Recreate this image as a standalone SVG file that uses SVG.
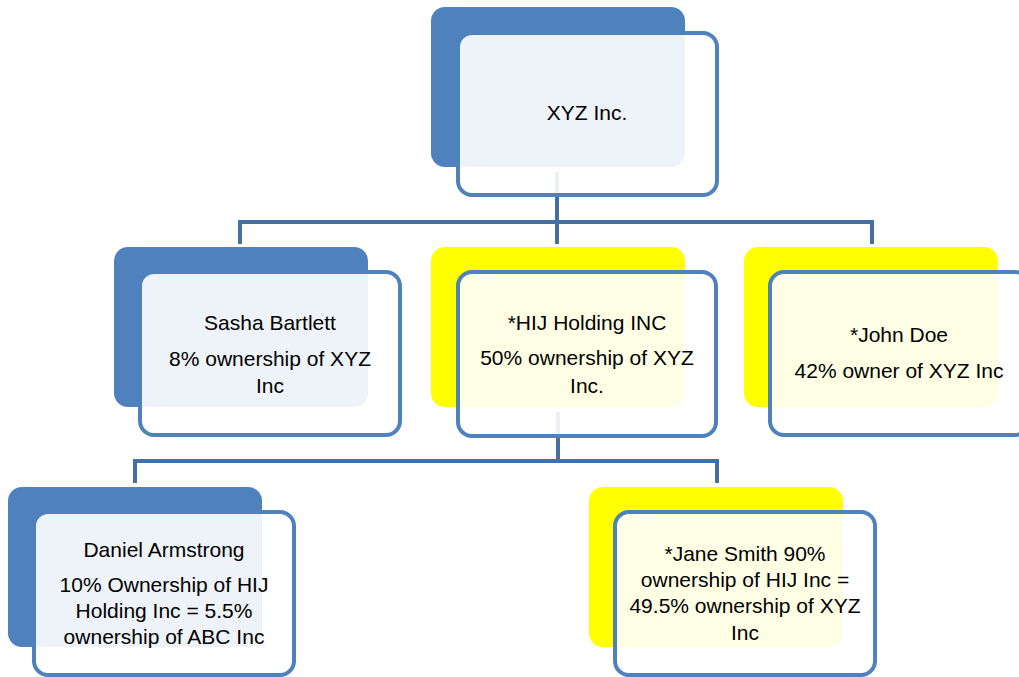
<svg xmlns="http://www.w3.org/2000/svg" width="1019" height="677" viewBox="0 0 1019 677">
<style>
.bg{fill:#fff}
.bb{fill:#4F81BD}
.by{fill:#FFFF00}
.fr{fill:#fff;fill-opacity:0.9;stroke:#4F81BD;stroke-width:4}
.cn{fill:none;stroke:#466FA6;stroke-width:4;stroke-linejoin:miter}
text{font-family:"Liberation Sans",Arial,sans-serif;font-size:21px;fill:#000;text-anchor:middle}
</style>
<rect class="bg" x="0" y="0" width="1019" height="677"/>
<g id="connectors">
<path class="cn" d="M240,244 V222 H872 V244 M557,172 V244"/>
<path class="cn" d="M135,483 V461 H717 V483 M558,412 V461"/>
</g>
<g id="xyz">
<rect class="bb" x="431" y="7" width="254" height="160" rx="14"/>
<rect class="fr" x="458" y="33" width="259" height="162" rx="14"/>
<text x="587" y="120">XYZ Inc.</text>
</g>
<g id="sasha">
<rect class="bb" x="114" y="247" width="254" height="160" rx="14"/>
<rect class="fr" x="140" y="272" width="260" height="163" rx="14"/>
<text x="270" y="330">Sasha Bartlett</text>
<text x="270" y="366">8% ownership of XYZ</text>
<text x="270" y="393">Inc</text>
</g>
<g id="hij">
<rect class="by" x="431" y="247" width="254" height="160" rx="14"/>
<rect class="fr" x="458" y="272" width="258" height="164" rx="14"/>
<text x="587" y="330">*HIJ Holding INC</text>
<text x="587" y="365">50% ownership of XYZ</text>
<text x="587" y="393">Inc.</text>
</g>
<g id="john">
<rect class="by" x="744" y="247" width="254" height="160" rx="14"/>
<rect class="fr" x="770" y="272" width="259" height="163" rx="14"/>
<text x="899" y="342">*John Doe</text>
<text x="899" y="378">42% owner of XYZ Inc</text>
</g>
<g id="daniel">
<rect class="bb" x="8" y="487" width="254" height="160" rx="14"/>
<rect class="fr" x="34" y="512" width="260" height="163" rx="14"/>
<text x="164" y="557">Daniel Armstrong</text>
<text x="164" y="592">10% Ownership of HIJ</text>
<text x="164" y="618">Holding Inc = 5.5%</text>
<text x="164" y="644">ownership of ABC Inc</text>
</g>
<g id="jane">
<rect class="by" x="589" y="487" width="254" height="160" rx="14"/>
<rect class="fr" x="615" y="512" width="260" height="163" rx="14"/>
<text x="745" y="561">*Jane Smith 90%</text>
<text x="745" y="587">ownership of HIJ Inc =</text>
<text x="745" y="613">49.5% ownership of XYZ</text>
<text x="745" y="640">Inc</text>
</g>
</svg>
